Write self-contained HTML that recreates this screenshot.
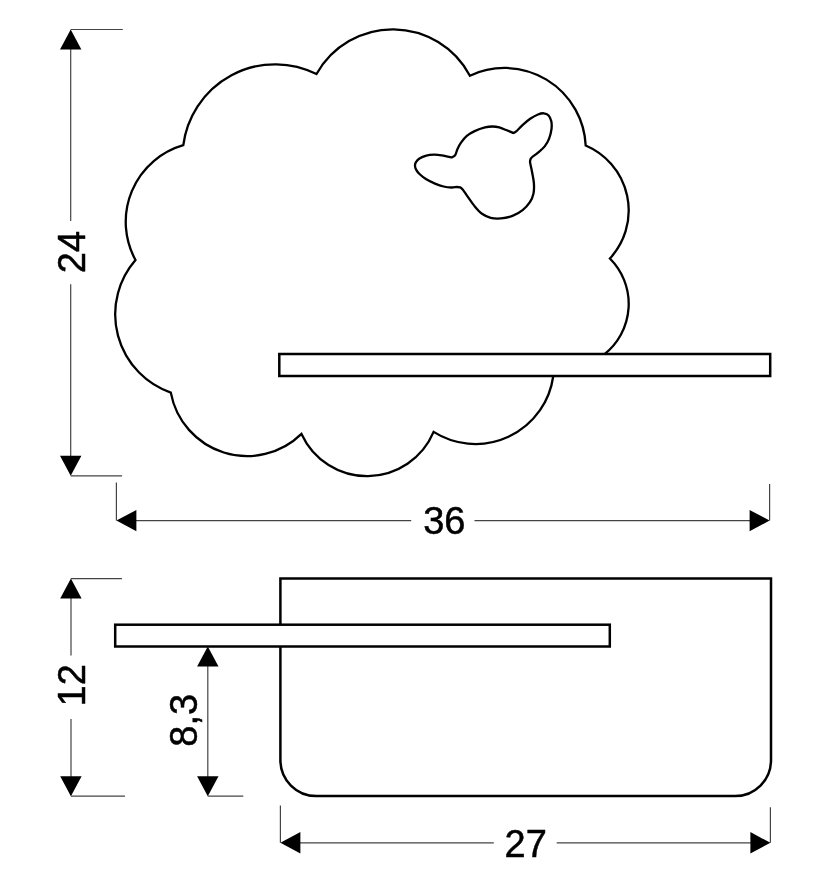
<!DOCTYPE html>
<html><head><meta charset="utf-8"><title>Dimensions</title>
<style>
html,body{margin:0;padding:0;background:#fff;}
body{width:828px;height:886px;overflow:hidden;font-family:"Liberation Sans",sans-serif;}
svg{display:block;}
svg{filter:grayscale(1);}
</style></head><body>
<svg width="828" height="886" viewBox="0 0 828 886">
<rect width="828" height="886" fill="#fff"/>
<g fill="none" stroke="#000" stroke-width="2.5" stroke-linejoin="miter">
<path d="M553.20 376.50 A78.49 78.49 0 0 1 433.60 431.90 A72.11 72.11 0 0 1 301.50 433.90 A77.64 77.64 0 0 1 170.80 392.60 A82.87 82.87 0 0 1 135.50 260.00 A79.70 79.70 0 0 1 183.30 145.20 A92.64 92.64 0 0 1 316.50 74.00 A87.35 87.35 0 0 1 469.90 75.70 A81.26 81.26 0 0 1 585.70 145.50 A70.64 70.64 0 0 1 609.90 258.50 A64.23 64.23 0 0 1 604.30 354.30" stroke-width="2.3"/>
<path d="M451.90 157.40 C452.45 157.02 454.27 156.50 455.20 155.10 C456.13 153.70 456.53 151.07 457.50 149.00 C458.47 146.93 459.45 144.88 461.00 142.70 C462.55 140.52 464.53 137.83 466.80 135.90 C469.07 133.97 471.57 132.52 474.60 131.10 C477.63 129.68 482.00 128.17 485.00 127.40 C488.00 126.63 490.22 126.50 492.60 126.50 C494.98 126.50 497.05 126.82 499.30 127.40 C501.55 127.98 503.77 129.07 506.10 130.00 C508.43 130.93 512.10 132.50 513.30 133.00 C513.78 132.73 514.67 132.72 516.20 131.40 C517.73 130.08 520.17 127.20 522.50 125.10 C524.83 123.00 527.62 120.57 530.20 118.80 C532.78 117.03 535.73 115.42 538.00 114.50 C540.27 113.58 542.03 113.13 543.80 113.30 C545.57 113.47 547.35 114.17 548.60 115.50 C549.85 116.83 550.82 119.05 551.30 121.30 C551.78 123.55 551.87 126.12 551.50 129.00 C551.13 131.88 550.23 135.70 549.10 138.60 C547.97 141.50 546.55 144.05 544.70 146.40 C542.85 148.75 540.08 150.93 538.00 152.70 C535.92 154.47 533.43 155.95 532.20 157.00 C530.97 158.05 530.87 158.67 530.60 159.00 C530.52 159.55 529.87 160.18 530.10 162.30 C530.33 164.42 531.37 168.20 532.00 171.70 C532.63 175.20 533.65 179.67 533.90 183.30 C534.15 186.93 534.17 190.35 533.50 193.50 C532.83 196.65 531.72 199.43 529.90 202.20 C528.08 204.97 525.50 207.82 522.60 210.10 C519.70 212.38 516.12 214.52 512.50 215.90 C508.88 217.28 504.53 218.08 500.90 218.40 C497.27 218.72 493.85 218.57 490.70 217.80 C487.55 217.03 484.65 215.68 482.00 213.80 C479.35 211.92 477.22 209.40 474.80 206.50 C472.38 203.60 469.47 199.17 467.50 196.40 C465.53 193.63 464.15 191.38 463.00 189.90 C461.85 188.42 461.00 187.90 460.60 187.50 C460.03 187.42 458.73 187.00 457.20 187.00 C455.67 187.00 453.67 187.58 451.40 187.50 C449.13 187.42 446.33 187.15 443.60 186.50 C440.87 185.85 437.88 184.80 435.00 183.60 C432.12 182.40 428.88 180.90 426.30 179.30 C423.72 177.70 421.20 175.62 419.50 174.00 C417.80 172.38 416.85 170.97 416.10 169.60 C415.35 168.23 415.05 167.00 415.00 165.80 C414.95 164.60 415.05 163.62 415.80 162.40 C416.55 161.18 417.75 159.63 419.50 158.50 C421.25 157.37 423.88 156.23 426.30 155.60 C428.72 154.97 431.43 154.75 434.00 154.70 C436.57 154.65 439.45 154.98 441.70 155.30 C443.95 155.62 445.80 156.25 447.50 156.60 C449.20 156.95 451.17 157.27 451.90 157.40 Z" stroke-width="2.3" stroke-linejoin="round"/>
<rect x="279.3" y="354" width="490.9" height="22"/>
<path d="M280.4 624.7V578.4H771V760A36 36 0 0 1 735 796.1H316.4A36 36 0 0 1 280.4 760V646.5"/>
<rect x="115.2" y="624.7" width="494.6" height="21.8" fill="#fff"/>
</g>
<g fill="none">
<line x1="70.7" y1="29.5" x2="122.8" y2="29.5" stroke="#444" stroke-width="1.2"/>
<line x1="70.7" y1="40.0" x2="70.7" y2="221.1" stroke="#444" stroke-width="1.2"/>
<line x1="70.7" y1="284.2" x2="70.7" y2="465.0" stroke="#444" stroke-width="1.2"/>
<line x1="70.7" y1="475.8" x2="122.1" y2="475.8" stroke="#444" stroke-width="1.2"/>
<line x1="116.4" y1="482.6" x2="116.4" y2="520.6" stroke="#444" stroke-width="1.2"/>
<line x1="769.6" y1="483.9" x2="769.6" y2="520.6" stroke="#444" stroke-width="1.2"/>
<line x1="130.0" y1="520.6" x2="411.2" y2="520.6" stroke="#444" stroke-width="1.2"/>
<line x1="474.5" y1="520.6" x2="755.0" y2="520.6" stroke="#444" stroke-width="1.2"/>
<line x1="70.9" y1="578.6" x2="121.9" y2="578.6" stroke="#444" stroke-width="1.2"/>
<line x1="71.0" y1="590.0" x2="71.0" y2="655.6" stroke="#444" stroke-width="1.2"/>
<line x1="71.0" y1="719.0" x2="71.0" y2="785.0" stroke="#444" stroke-width="1.2"/>
<line x1="70.9" y1="796.2" x2="125.0" y2="796.2" stroke="#444" stroke-width="1.2"/>
<line x1="207.8" y1="660.0" x2="207.8" y2="785.0" stroke="#444" stroke-width="1.2"/>
<line x1="207.8" y1="796.2" x2="243.3" y2="796.2" stroke="#444" stroke-width="1.2"/>
<line x1="280.4" y1="805.6" x2="280.4" y2="842.8" stroke="#444" stroke-width="1.2"/>
<line x1="770.4" y1="807.2" x2="770.4" y2="842.8" stroke="#444" stroke-width="1.2"/>
<line x1="295.0" y1="842.8" x2="493.8" y2="842.8" stroke="#444" stroke-width="1.2"/>
<line x1="556.7" y1="842.8" x2="757.0" y2="842.8" stroke="#444" stroke-width="1.2"/>
</g>
<g fill="#000">
<polygon points="70.7,29.5 60.0,49.5 81.4,49.5"/>
<polygon points="70.7,475.8 60.0,455.8 81.4,455.8"/>
<polygon points="116.4,520.6 136.4,509.9 136.4,531.3"/>
<polygon points="769.6,520.6 749.6,509.9 749.6,531.3"/>
<polygon points="70.9,578.6 60.2,598.6 81.6,598.6"/>
<polygon points="70.9,796.2 60.2,776.2 81.6,776.2"/>
<polygon points="207.8,646.6 197.1,666.6 218.5,666.6"/>
<polygon points="207.8,796.2 197.1,776.2 218.5,776.2"/>
<polygon points="280.4,842.8 300.4,832.1 300.4,853.5"/>
<polygon points="770.4,842.8 750.4,832.1 750.4,853.5"/>
</g>
<g font-family="'Liberation Sans', sans-serif" font-size="38" fill="#000" stroke="#000" stroke-width="0.5" text-anchor="middle">
<text transform="translate(444.3 534.3) rotate(-0.02)">36</text>
<text transform="translate(525.7 857) rotate(-0.02)">27</text>
<text transform="translate(84.9 252) rotate(-90)">24</text>
<text transform="translate(85.2 685.3) rotate(-90)">12</text>
<text transform="translate(197.1 720.3) rotate(-90)">8,3</text>
</g>
</svg>
</body></html>
